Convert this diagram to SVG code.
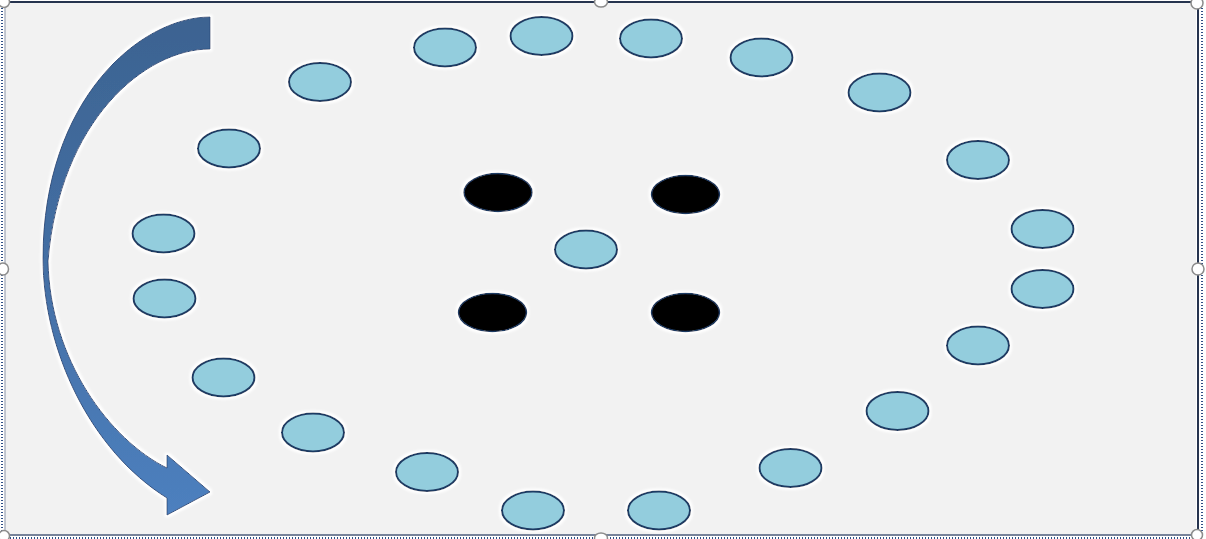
<svg xmlns="http://www.w3.org/2000/svg" width="1206" height="539" viewBox="0 0 1206 539">
<defs>
<filter id="glow" x="-20%" y="-20%" width="140%" height="140%">
<feMorphology in="SourceAlpha" operator="dilate" radius="2" result="d"/>
<feGaussianBlur in="d" stdDeviation="1" result="b"/>
<feFlood flood-color="#ffffff"/>
<feComposite in2="b" operator="in" result="w"/>
<feMerge><feMergeNode in="w"/><feMergeNode in="SourceGraphic"/></feMerge>
</filter>
<linearGradient id="arrowGrad" x1="0" y1="0" x2="0" y2="1">
<stop offset="0" stop-color="#3c6391"/>
<stop offset="0.5" stop-color="#446fa4"/>
<stop offset="1" stop-color="#4d80bf"/>
</linearGradient>
<style>
.dot{fill:#93cddd;stroke:#1f3b63;stroke-width:2}
.blk{fill:#000000;stroke:#1f3b63;stroke-width:1.5}
.handle{fill:#ffffff;stroke:#8c8c8c;stroke-width:1.5}
.dotted{stroke:#2e4e86;stroke-width:2;stroke-dasharray:1 2;fill:none}
</style>
</defs>
<rect x="0" y="0" width="1206" height="539" fill="#ffffff"/>
<rect x="5" y="3" width="1191" height="531" fill="#f2f2f2"/>
<g id="frame">
<line x1="4" y1="2" x2="1197" y2="2" stroke="#26344f" stroke-width="2"/>
<line x1="1198" y1="2" x2="1198" y2="536" stroke="#26344f" stroke-width="2"/>
<line x1="4" y1="535" x2="1198" y2="535" stroke="#4a5a78" stroke-width="1.5"/>
<line x1="5" y1="2" x2="5" y2="535" stroke="#8a93a6" stroke-width="1"/>
<line class="dotted" x1="2" y1="2" x2="2" y2="537"/>
<line class="dotted" x1="1202" y1="2" x2="1202" y2="537"/>
<line class="dotted" x1="4" y1="538" x2="1198" y2="538"/>
</g>
<g id="arrow" filter="url(#glow)">
<path d="M210,17 C140,17 43,100 43,258 C43,350 90,450 167,498 L167,515 L210,492 L167,455 L167,468 C110,440 50,360 48,261 C60,120 145,49 210,49 Z" fill="url(#arrowGrad)" stroke="#2d5080" stroke-width="1"/>
</g>
<g id="connectors"></g>
<g id="dots" filter="url(#glow)">
<g id="n1"><ellipse class="dot" cx="445" cy="47.5" rx="31" ry="19"/></g>
<g id="n2"><ellipse class="dot" cx="541.5" cy="36" rx="31" ry="19"/></g>
<g id="n3"><ellipse class="dot" cx="651" cy="38.5" rx="31" ry="19"/></g>
<g id="n4"><ellipse class="dot" cx="761.5" cy="57.5" rx="31" ry="19"/></g>
<g id="n5"><ellipse class="dot" cx="879.5" cy="92.5" rx="31" ry="19"/></g>
<g id="n6"><ellipse class="dot" cx="978" cy="160" rx="31" ry="19"/></g>
<g id="n7"><ellipse class="dot" cx="1042.5" cy="229" rx="31" ry="19"/></g>
<g id="n8"><ellipse class="dot" cx="1042.5" cy="289" rx="31" ry="19"/></g>
<g id="n9"><ellipse class="dot" cx="978" cy="345.5" rx="31" ry="19"/></g>
<g id="n10"><ellipse class="dot" cx="897.5" cy="411" rx="31" ry="19"/></g>
<g id="n11"><ellipse class="dot" cx="790.5" cy="468" rx="31" ry="19"/></g>
<g id="n12"><ellipse class="dot" cx="659" cy="510.5" rx="31" ry="19"/></g>
<g id="n13"><ellipse class="dot" cx="533" cy="510.5" rx="31" ry="19"/></g>
<g id="n14"><ellipse class="dot" cx="427" cy="472" rx="31" ry="19"/></g>
<g id="n15"><ellipse class="dot" cx="313" cy="432.5" rx="31" ry="19"/></g>
<g id="n16"><ellipse class="dot" cx="223.5" cy="377.5" rx="31" ry="19"/></g>
<g id="n17"><ellipse class="dot" cx="164.5" cy="298.5" rx="31" ry="19"/></g>
<g id="n18"><ellipse class="dot" cx="163.5" cy="233.5" rx="31" ry="19"/></g>
<g id="n19"><ellipse class="dot" cx="229" cy="148.5" rx="31" ry="19"/></g>
<g id="n20"><ellipse class="dot" cx="320" cy="82" rx="31" ry="19"/></g>
<g id="center"><ellipse class="dot" cx="586" cy="249.5" rx="31" ry="19"/></g>
<g id="b1"><ellipse class="blk" cx="498" cy="192.5" rx="34" ry="19"/></g>
<g id="b2"><ellipse class="blk" cx="685.5" cy="194.5" rx="34" ry="19"/></g>
<g id="b3"><ellipse class="blk" cx="492.5" cy="312.5" rx="34" ry="19"/></g>
<g id="b4"><ellipse class="blk" cx="685.5" cy="312.5" rx="34" ry="19"/></g>
</g>
<g id="handles">
<circle class="handle" cx="4" cy="2" r="5.5"/>
<ellipse class="handle" cx="601" cy="2" rx="6.5" ry="5"/>
<circle class="handle" cx="1197" cy="3" r="6"/>
<ellipse class="handle" cx="3" cy="269" rx="5.5" ry="6"/>
<ellipse class="handle" cx="1198" cy="269" rx="6" ry="6"/>
<circle class="handle" cx="4" cy="536" r="5.5"/>
<ellipse class="handle" cx="601" cy="538" rx="6.5" ry="5"/>
<circle class="handle" cx="1197" cy="535" r="5.5"/>
</g>
</svg>
